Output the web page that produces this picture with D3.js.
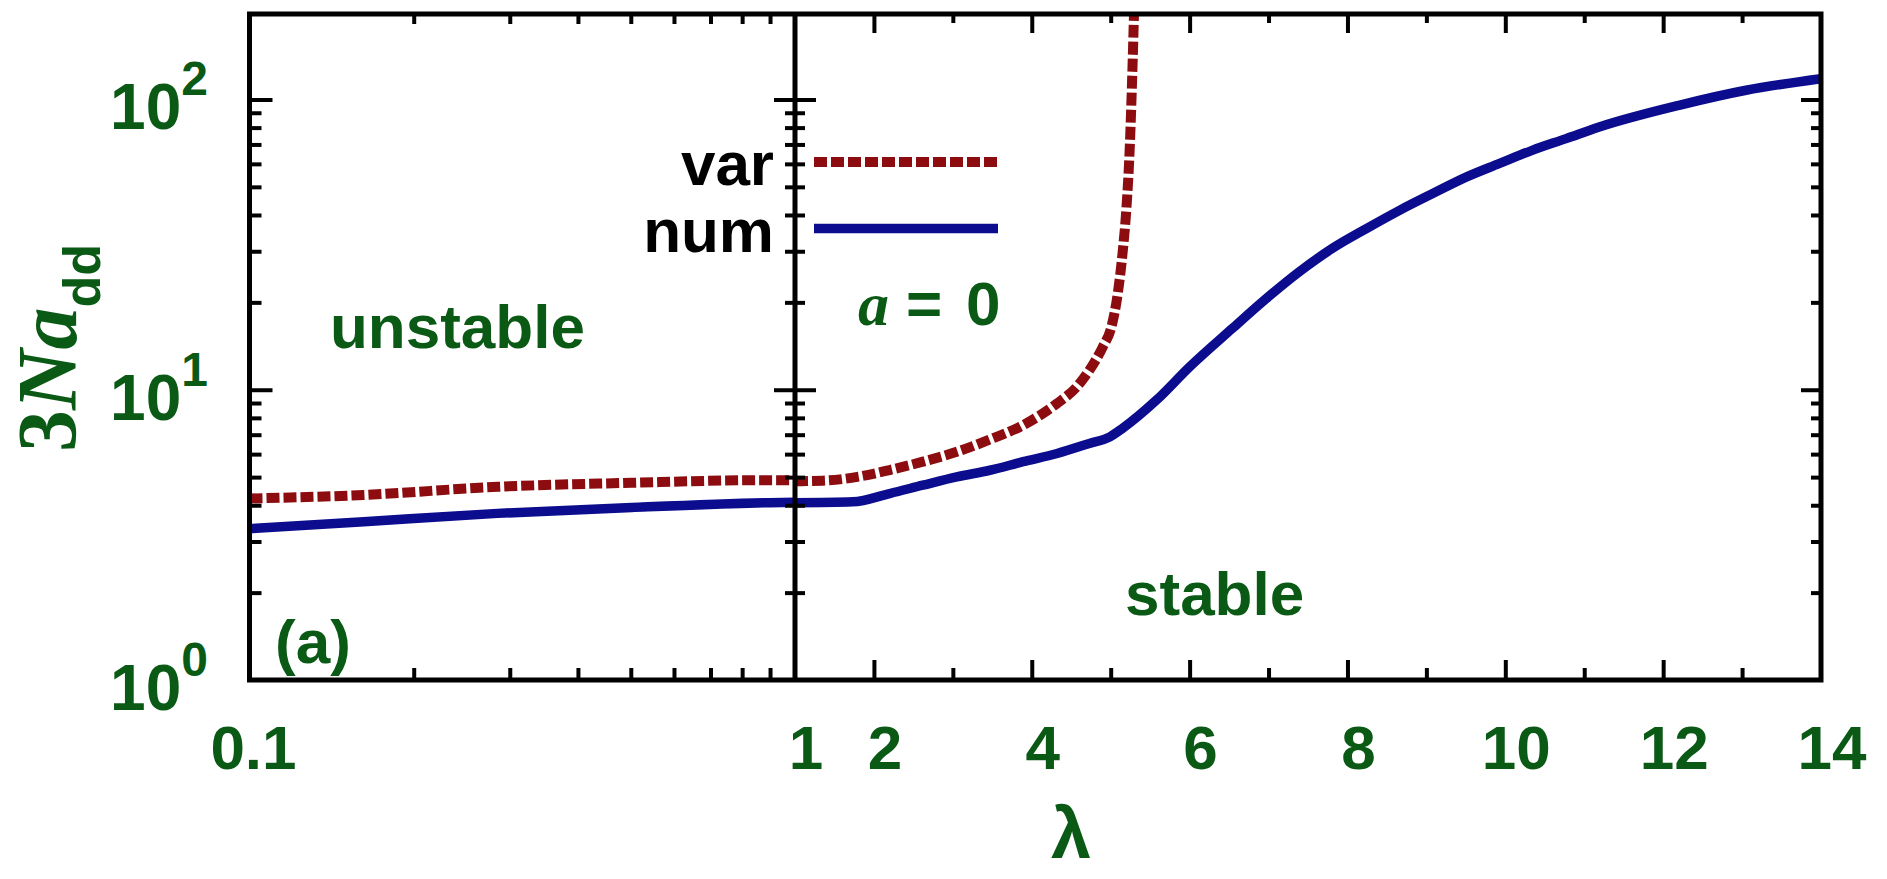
<!DOCTYPE html>
<html>
<head>
<meta charset="utf-8">
<script src="https://cdn.jsdelivr.net/npm/d3@7"></script>
<style>
  html, body { margin: 0; padding: 0; background: #fff; }
  svg { display: block; }
  text { font-family: "Liberation Sans", Arial, sans-serif; }
</style>
</head>
<body>
<svg id="chart" width="1887" height="879"></svg>
<script>
// λ < 1 (logarithmic panel)
const lamLeft = [0.1, 0.162, 0.285, 0.502, 0.885, 1.0];
const numLeft = [3.32, 3.51, 3.75, 3.93, 4.08, 4.10];
const varLeft = [4.22, 4.34, 4.63, 4.78, 4.88, 4.88];

// λ ≥ 1 (linear panel)
const lamNum = [1.0, 1.73, 2.2, 2.62, 3.05, 3.47, 3.89, 4.32, 4.73, 4.99, 5.15, 5.58, 6.0, 6.54, 6.97,
                7.39, 7.81, 8.24, 8.66, 9.08, 9.51, 9.92, 10.34, 10.77, 11.19, 12.2, 13.05, 14.0];
const numRight = [4.08, 4.11, 4.39, 4.69, 5.01, 5.28, 5.65, 6.03, 6.53, 6.88, 7.36, 9.21, 11.99, 16.25, 20.6,
                  25.5, 30.7, 35.9, 41.5, 47.4, 54.1, 60.1, 66.8, 73.3, 80.4, 95.5, 107.6, 118];
const lamVar = [1.0, 1.35, 1.79, 2.2, 2.62, 3.05, 3.47, 3.89, 4.32, 4.57, 4.73, 4.90, 5.01, 5.09, 5.15,
                5.20, 5.24, 5.27, 5.30];
const varRight = [4.84, 4.86, 5.01, 5.29, 5.65, 6.11, 6.74, 7.55, 8.97, 10.23, 11.68, 14.05, 16.5, 21.5, 29.5,
                  42.5, 66.8, 113.7, 220];

// ticks
const xMinorLeft = [0.2, 0.3, 0.4, 0.5, 0.6, 0.7, 0.8, 0.9];
const xMajorRight = [2, 4, 6, 8, 10, 12];
const xMinorRight = [3, 5, 7, 9, 11, 13];
const xLabels = [0.1, 1, 2, 4, 6, 8, 10, 12, 14];
const yMajor = [10, 100];
const yMinor = [2, 3, 4, 5, 6, 7, 8, 9, 20, 30, 40, 50, 60, 70, 80, 90];
const yLabels = [[1, "0"], [10, "1"], [100, "2"]];

const GREEN = "#0a5a16";
const RED = "#8c0c10";
const BLUE = "#0c0c8e";

const L = 249.5, R = 1821, T = 14, B = 680, MID = 795;

const svg = d3.select("#chart");

const xL = d3.scaleLog().domain([0.1, 1]).range([L, MID]);
const xR = d3.scaleLinear().domain([1, 14]).range([MID, R]);
const y = d3.scaleLog().domain([1, 197]).range([B, T]);
const xOf = v => (v < 1 ? xL(v) : xR(v));

svg.append("defs").append("clipPath").attr("id", "plot")
  .append("rect").attr("x", L).attr("y", T).attr("width", R - L).attr("height", B - T);

const curves = svg.append("g").attr("clip-path", "url(#plot)");

function drawLine(xs, ys, xs_scale, color, dashed) {
  const line = d3.line()
    .x(d => xs_scale(d[0]))
    .y(d => y(d[1]))
    .curve(d3.curveMonotoneX);
  const p = curves.append("path")
    .datum(xs.map((v, i) => [v, ys[i]]))
    .attr("d", line)
    .attr("fill", "none")
    .attr("stroke", color)
    .attr("stroke-width", dashed ? 10 : 9.5)
    .attr("stroke-linejoin", "round");
  if (dashed) p.attr("stroke-dasharray", "13 4");
}

drawLine(lamLeft, varLeft, xL, RED, true);
drawLine(lamLeft, numLeft, xL, BLUE, false);
drawLine(lamVar, varRight, xR, RED, true);
drawLine(lamNum, numRight, xR, BLUE, false);

// tick marks via d3 axes (drawn inward)
function tickGroup(axis, tx, ty) {
  const g = svg.append("g").attr("transform", `translate(${tx},${ty})`).call(axis);
  g.select(".domain").remove();
  g.selectAll(".tick line").attr("stroke", "#000").attr("stroke-width", 4);
  g.selectAll(".tick text").remove();
  return g;
}

// bottom / top, log panel
tickGroup(d3.axisBottom(xL).tickValues(xMinorLeft).tickSizeInner(-12).tickSizeOuter(0), 0, B);
tickGroup(d3.axisTop(xL).tickValues(xMinorLeft).tickSizeInner(-10).tickSizeOuter(0), 0, T);
// bottom / top, linear panel
tickGroup(d3.axisBottom(xR).tickValues(xMajorRight).tickSizeInner(-20).tickSizeOuter(0), 0, B);
tickGroup(d3.axisBottom(xR).tickValues(xMinorRight).tickSizeInner(-12).tickSizeOuter(0), 0, B);
tickGroup(d3.axisTop(xR).tickValues(xMajorRight).tickSizeInner(-19).tickSizeOuter(0), 0, T);
tickGroup(d3.axisTop(xR).tickValues(xMinorRight).tickSizeInner(-9).tickSizeOuter(0), 0, T);

// left border
tickGroup(d3.axisLeft(y).tickValues(yMajor).tickSizeInner(-23).tickSizeOuter(0), L, 0);
tickGroup(d3.axisLeft(y).tickValues(yMinor).tickSizeInner(-12).tickSizeOuter(0), L, 0);
// divider, both sides
tickGroup(d3.axisLeft(y).tickValues(yMajor).tickSizeInner(21).tickSizeOuter(0), MID, 0);
tickGroup(d3.axisLeft(y).tickValues(yMinor).tickSizeInner(10).tickSizeOuter(0), MID, 0);
tickGroup(d3.axisRight(y).tickValues(yMajor).tickSizeInner(21).tickSizeOuter(0), MID, 0);
tickGroup(d3.axisRight(y).tickValues(yMinor).tickSizeInner(10).tickSizeOuter(0), MID, 0);
// right border
tickGroup(d3.axisRight(y).tickValues(yMajor).tickSizeInner(-20).tickSizeOuter(0), R, 0);
tickGroup(d3.axisRight(y).tickValues(yMinor).tickSizeInner(-10).tickSizeOuter(0), R, 0);

// frame and panel divider
svg.append("rect").attr("x", L).attr("y", T).attr("width", R - L).attr("height", B - T)
  .attr("fill", "none").attr("stroke", "#000").attr("stroke-width", 5);
svg.append("line").attr("x1", MID).attr("x2", MID).attr("y1", T).attr("y2", B)
  .attr("stroke", "#000").attr("stroke-width", 5);

// x tick labels
svg.append("g").selectAll("text").data(xLabels).join("text")
  .attr("x", d => xOf(d) + (d === 0.1 ? 4 : 11))
  .attr("y", 769)
  .attr("text-anchor", "middle")
  .attr("font-size", 62).attr("font-weight", "bold").attr("fill", GREEN)
  .text(d => String(d));

// y tick labels: 10^n
const yl = svg.append("g").selectAll("text").data(yLabels).join("text")
  .attr("x", 208)
  .attr("y", d => y(d[0]) + 30)
  .attr("text-anchor", "end")
  .attr("font-size", 64).attr("font-weight", "bold").attr("fill", GREEN);
yl.append("tspan").text("10");
yl.append("tspan").attr("dy", -34).attr("font-size", 48).text(d => d[1]);

// axis titles
svg.append("text")
  .attr("x", 1071).attr("y", 858)
  .attr("text-anchor", "middle")
  .attr("font-size", 72).attr("font-weight", "bold").attr("fill", GREEN)
  .text("λ");

const yt = svg.append("text")
  .attr("transform", "translate(76,348) rotate(-90)")
  .attr("text-anchor", "middle")
  .attr("fill", GREEN);
yt.append("tspan").attr("font-family", "'Liberation Serif', 'Times New Roman', serif")
  .attr("font-size", 84).attr("font-weight", "bold").text("3");
yt.append("tspan").attr("font-family", "'Liberation Serif', 'Times New Roman', serif")
  .attr("font-size", 84).attr("font-weight", "bold").attr("font-style", "italic").text("Na");
yt.append("tspan").attr("font-size", 52).attr("font-weight", "bold").attr("dy", 24).text("dd");

// region labels
function label(txt, x, yy, opts = {}) {
  return svg.append("text").attr("x", x).attr("y", yy)
    .attr("font-size", opts.size || 62)
    .attr("font-weight", opts.weight || "bold")
    .attr("fill", opts.color || GREEN)
    .attr("text-anchor", opts.anchor || "start")
    .text(txt);
}
label("unstable", 330, 348);
label("stable", 1125, 615);
label("(a)", 275, 663);

// parameter note: a = 0
const note = svg.append("text").attr("y", 325).attr("fill", GREEN).attr("font-size", 62).attr("font-weight", "bold");
note.append("tspan").attr("x", 858)
  .attr("font-family", "'Liberation Serif', 'Times New Roman', serif").attr("font-style", "italic").text("a");
note.append("tspan").attr("x", 906).text("=");
note.append("tspan").attr("x", 966).text("0");

// legend
const legend = [
  { name: "var", color: RED, dashed: true, y: 162, ty: 185 },
  { name: "num", color: BLUE, dashed: false, y: 228.5, ty: 252 }
];
const lg = svg.append("g");
legend.forEach(d => {
  lg.append("text").attr("x", 774).attr("y", d.ty).attr("text-anchor", "end")
    .attr("font-size", 62).attr("font-weight", "bold").attr("fill", "#000").text(d.name);
  const ln = lg.append("line").attr("x1", 814).attr("x2", 998).attr("y1", d.y).attr("y2", d.y)
    .attr("stroke", d.color).attr("stroke-width", d.dashed ? 10 : 9.5);
  if (d.dashed) ln.attr("stroke-dasharray", "13 4");
});
</script>
</body>
</html>
